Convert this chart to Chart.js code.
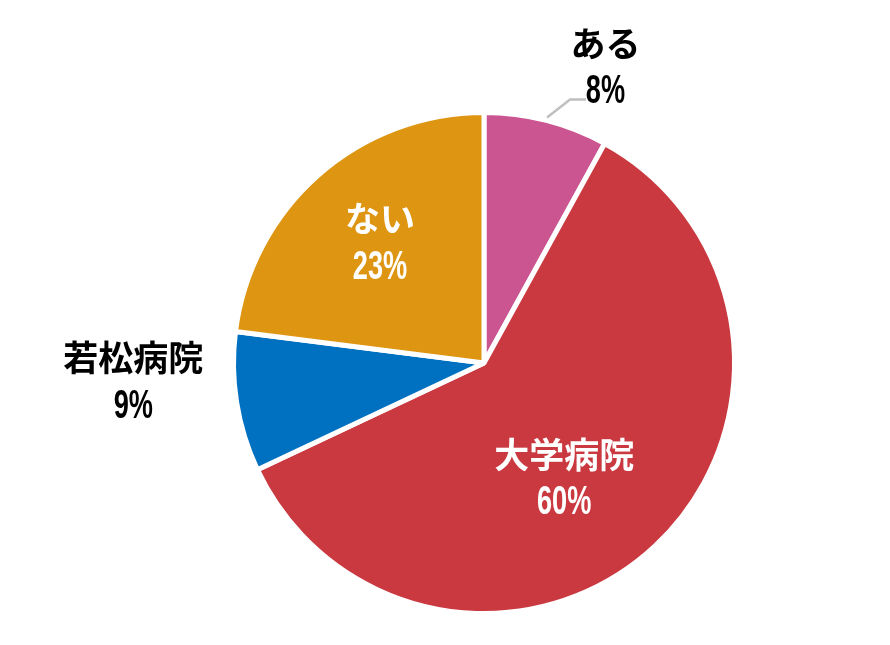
<!DOCTYPE html>
<html><head><meta charset="utf-8">
<script src="https://cdn.jsdelivr.net/npm/chart.js@4.4.1/dist/chart.umd.min.js"></script>
<style>html,body{margin:0;padding:0;background:#fff;}#wrap{width:890px;height:645px;}</style>
</head><body><div id="wrap"><canvas id="c" width="890" height="645"></canvas></div>
<script>
const categories = ['ある', '大学病院', '若松病院', 'ない'];
const values = [8, 60, 9, 23];
const pctLabels = ['8%', '60%', '9%', '23%'];
const colors = ['#CB5590', '#C9393F', '#0070C0', '#DE9612'];
const textColors = ['#000000', '#FFFFFF', '#000000', '#FFFFFF'];
// label placement relative to center, in units of radius
const labelPos = [[0.485, -1.18], [0.32, 0.46], [-1.40, 0.075], [-0.415, -0.48]];

const labelPlugin = {
  id: 'sliceLabels',
  afterDatasetsDraw(chart) {
    const ctx = chart.ctx;
    const meta = chart.getDatasetMeta(0);
    meta.data.forEach((arc, i) => {
      const cx = arc.x, cy = arc.y, r = arc.outerRadius;
      const lx = cx + labelPos[i][0] * r, ly = cy + labelPos[i][1] * r;
      ctx.save();
      ctx.fillStyle = textColors[i];
      ctx.textAlign = 'center';
      ctx.textBaseline = 'middle';
      ctx.font = 'bold 35px "Noto Sans CJK JP"';
      ctx.fillText(categories[i], lx, ly - 24);
      ctx.save();
      ctx.translate(lx, ly + 25);
      ctx.scale(0.68, 1);
      ctx.font = 'bold 40px "Liberation Sans"';
      ctx.fillText(pctLabels[i], 0, 0);
      ctx.restore();
      ctx.restore();
      if (i === 0) {
        const mid = (arc.startAngle + arc.endAngle) / 2;
        const sx = cx + Math.cos(mid) * (r + 3), sy = cy + Math.sin(mid) * (r + 3);
        ctx.save();
        ctx.strokeStyle = '#BFBFBF';
        ctx.lineWidth = 2.5;
        ctx.beginPath();
        ctx.moveTo(sx, sy);
        ctx.lineTo(sx + 23, sy - 18);
        ctx.lineTo(sx + 39, sy - 18);
        ctx.stroke();
        ctx.restore();
      }
    });
  }
};

new Chart(document.getElementById('c'), {
  type: 'pie',
  data: {
    labels: categories,
    datasets: [{ data: values, backgroundColor: colors, borderColor: '#FFFFFF', borderWidth: 5 }]
  },
  options: {
    responsive: false,
    animation: false,
    layout: { padding: { left: 231, right: 153, top: 110, bottom: 29 } },
    plugins: { legend: { display: false }, tooltip: { enabled: false } }
  },
  plugins: [labelPlugin]
});
</script></body></html>
